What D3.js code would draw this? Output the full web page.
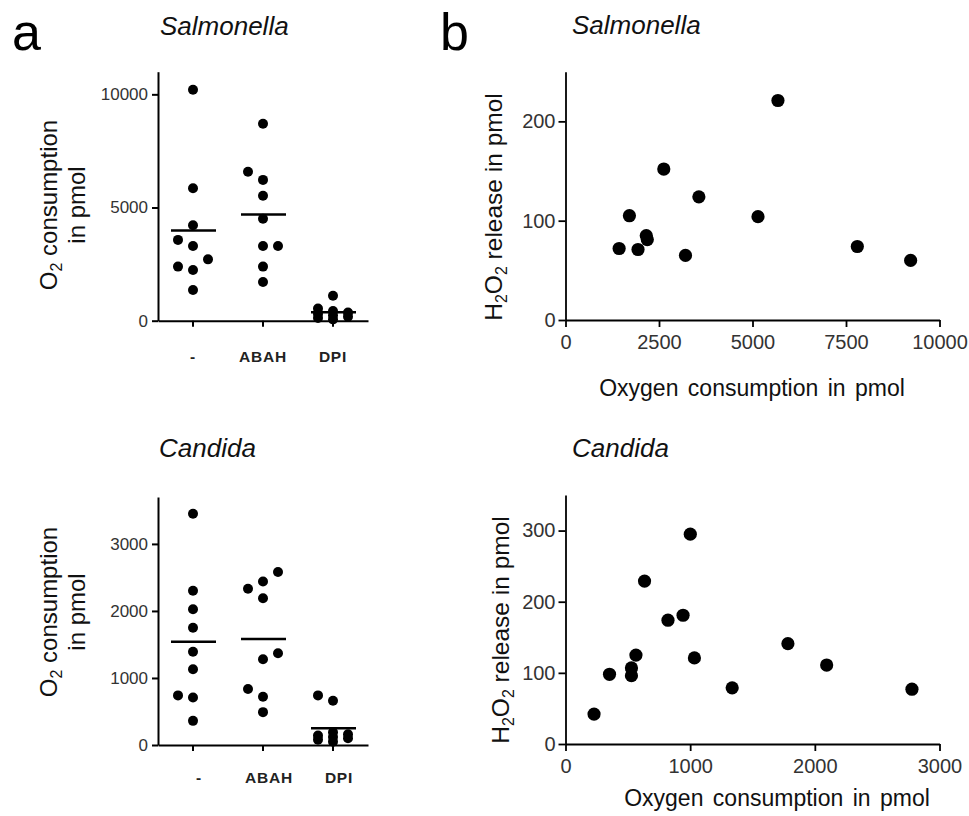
<!DOCTYPE html>
<html><head><meta charset="utf-8">
<script src="https://cdn.jsdelivr.net/npm/d3@7"></script>
<style>
body{margin:0;background:#fff}
svg{display:block}
text{font-family:"Liberation Sans", Arial, Helvetica, sans-serif}
</style>
</head><body>
<svg id="c" width="969" height="816"></svg>
<script>
// ---------- data ----------
const categories = ["-", "ABAH", "DPI"];
const salO2Ctrl = [10200, 5850, 4220, 3570, 3300, 2710, 2390, 2240, 1360];
const salO2Abah = [8700, 6580, 6220, 5520, 4500, 3300, 3300, 2390, 1710];
const salO2Dpi  = [1100, 540, 430, 360, 300, 240, 180, 120, 60];
const canO2Ctrl = [3450, 2300, 2025, 1750, 1390, 1130, 740, 710, 360];
const canO2Abah = [2580, 2440, 2330, 2190, 1370, 1280, 835, 720, 490];
const canO2Dpi  = [740, 660, 190, 160, 140, 120, 100, 80, 50];
const salOxygen = [5680, 2628, 3566, 1709, 5147, 2160, 2187, 1434, 1939, 3208, 7803, 9228];
const salH2O2   = [221, 152, 124, 105, 104, 85, 81, 72, 71, 65, 74, 60];
const canOxygen = [1001, 634, 943, 822, 1784, 565, 1034, 2095, 529, 353, 529, 1337, 2779, 229];
const canH2O2   = [295, 229, 181, 174, 141, 125, 121, 111, 107, 98, 96, 79, 77, 42];
const salO2Ticks = [0, 5000, 10000];
const canO2Ticks = [0, 1000, 2000, 3000];
const salScatXTicks = [0, 2500, 5000, 7500, 10000];
const salScatYTicks = [0, 100, 200];
const canScatXTicks = [0, 1000, 2000, 3000];
const canScatYTicks = [0, 100, 200, 300];

const svg = d3.select("#c");
svg.append("rect").attr("width", 969).attr("height", 816).attr("fill", "#fff");

function styleAxis(sel, sw, fs) {
  sel.selectAll("path.domain").attr("stroke", "#000").attr("stroke-width", sw);
  sel.selectAll(".tick line").attr("stroke", "#000").attr("stroke-width", sw);
  sel.selectAll(".tick text").attr("fill", "#333").attr("font-size", fs)
     .attr("font-family", '"Liberation Sans", Arial, sans-serif');
}

// Prism-like slot arrangement of points with similar values
function dodge(vals, y, T) {
  const items = vals.map((v, i) => ({v, py: y(v), i})).sort((a, b) => a.v - b.v);
  const placed = [];
  const slots = [0, -1, 1];
  items.forEach(it => {
    const room = slots.map(k => {
      const same = placed.filter(p => p.slot === k);
      return same.length ? d3.min(same, p => Math.abs(p.py - it.py)) : Infinity;
    });
    let slot;
    if (room[0] >= T) slot = 0;
    else if (room[1] >= T && room[2] >= T) {
      if (room[2] > room[1]) slot = 1;
      else if (room[1] > room[2]) slot = -1;
      else slot = placed.some(p => p.v === it.v) ? 1 : -1;
    }
    else if (room[1] >= T) slot = -1;
    else if (room[2] >= T) slot = 1;
    else slot = slots[d3.maxIndex(room)];
    it.slot = slot;
    placed.push(it);
  });
  return items;
}

function dotPanel(o) {
  const g = svg.append("g");
  const x = d3.scaleBand().domain(categories).range([o.x0, o.x1]);
  const y = d3.scaleLinear().domain([0, o.yMax]).range([o.yBottom, o.yTop]);
  const ya = g.append("g").attr("transform", `translate(${o.x0},0)`)
    .call(d3.axisLeft(y).tickValues(o.ticks).tickSize(6).tickSizeOuter(0).tickPadding(4).tickFormat(d3.format("d")));
  styleAxis(ya, 2, 17);
  const xa = g.append("g").attr("transform", `translate(0,${o.yBottom})`)
    .call(d3.axisBottom(x).tickSize(6).tickSizeOuter(0).tickFormat(""));
  styleAxis(xa, 2, 17);
  categories.forEach((c, ci) => {
    const cx = x(c) + x.bandwidth() / 2;
    const arr = dodge(o.groups[ci], y, 12);
    g.append("g").selectAll("circle").data(arr).join("circle")
      .attr("cx", d => cx + d.slot * 15).attr("cy", d => d.py).attr("r", 5).attr("fill", "#000");
    const m = d3.mean(o.groups[ci]);
    g.append("line").attr("x1", cx - 22).attr("x2", cx + 23).attr("y1", y(m)).attr("y2", y(m))
      .attr("stroke", "#000").attr("stroke-width", 2.4);
    g.append("text").attr("x", cx + o.labelShift).attr("y", o.yBottom + o.labelDy)
      .attr("text-anchor", "middle").attr("font-weight", "bold").attr("font-size", 15.5)
      .attr("letter-spacing", 0.8).attr("fill", "#222").text(c);
  });
  // y label (two lines)
  const t1 = g.append("text").attr("transform", `translate(${o.lab1x},${o.labCy}) rotate(-90)`)
    .attr("text-anchor", "middle").attr("font-size", 24).attr("fill", "#111");
  t1.append("tspan").text("O");
  t1.append("tspan").attr("font-size", 16).attr("dy", 5).text("2");
  t1.append("tspan").attr("dy", -5).text(" consumption");
  g.append("text").attr("transform", `translate(${o.lab2x},${o.labCy}) rotate(-90)`)
    .attr("text-anchor", "middle").attr("font-size", 24).attr("fill", "#111").text("in pmol");
  g.append("text").attr("x", o.titleX).attr("y", o.titleY).attr("font-size", 26)
    .attr("font-style", "italic").attr("fill", "#111").text(o.title);
}

function scatterPanel(o) {
  const g = svg.append("g");
  const x = d3.scaleLinear().domain([0, o.xMax]).range([o.x0, o.x1]);
  const y = d3.scaleLinear().domain([0, o.yMax]).range([o.yBottom, o.yTop]);
  const ya = g.append("g").attr("transform", `translate(${o.x0},0)`)
    .call(d3.axisLeft(y).tickValues(o.yTicks).tickSize(7).tickSizeOuter(0).tickPadding(3).tickFormat(d3.format("d")));
  styleAxis(ya, 1.8, 20);
  const xa = g.append("g").attr("transform", `translate(0,${o.yBottom})`)
    .call(d3.axisBottom(x).tickValues(o.xTicks).tickSize(7).tickSizeOuter(0).tickPadding(8).tickFormat(d3.format("d")));
  styleAxis(xa, 1.8, 20);
  g.append("g").selectAll("circle").data(o.xs).join("circle")
    .attr("cx", d => x(d)).attr("cy", (d, i) => y(o.ys[i])).attr("r", 6.6).attr("fill", "#000");
  g.append("text").attr("x", o.xlabX).attr("y", o.xlabY).attr("text-anchor", "middle")
    .attr("font-size", 23).attr("fill", "#111").attr("word-spacing", 3).text("Oxygen consumption in pmol");
  const t = g.append("text").attr("transform", `translate(${o.ylabX},${o.ylabCy}) rotate(-90)`)
    .attr("text-anchor", "middle").attr("font-size", 24.5).attr("fill", "#111");
  t.append("tspan").text("H");
  t.append("tspan").attr("font-size", 16).attr("dy", 5).text("2");
  t.append("tspan").attr("dy", -5).text("O");
  t.append("tspan").attr("font-size", 16).attr("dy", 5).text("2");
  t.append("tspan").attr("dy", -5).text(o.ylabRest);
  g.append("text").attr("x", o.titleX).attr("y", o.titleY).attr("font-size", 26)
    .attr("font-style", "italic").attr("fill", "#111").text(o.title);
}

dotPanel({x0: 158, x1: 368, yTop: 71.7, yBottom: 320.7, yMax: 11000, ticks: salO2Ticks,
  groups: [salO2Ctrl, salO2Abah, salO2Dpi], labelDy: 41, labelShift: 0,
  lab1x: 57, lab2x: 85, labCy: 205, title: "Salmonella", titleX: 160, titleY: 35});
dotPanel({x0: 158, x1: 368, yTop: 497, yBottom: 745, yMax: 3700, ticks: canO2Ticks,
  groups: [canO2Ctrl, canO2Abah, canO2Dpi], labelDy: 38, labelShift: 6,
  lab1x: 57, lab2x: 85, labCy: 612, title: "Candida", titleX: 159, titleY: 457});

scatterPanel({x0: 565.5, x1: 939.5, yTop: 71.7, yBottom: 320, xMax: 10000, yMax: 250,
  xTicks: salScatXTicks, yTicks: salScatYTicks, xs: salOxygen, ys: salH2O2,
  xlabX: 752, xlabY: 396, ylabX: 502, ylabCy: 207, ylabRest: " release  in pmol",
  title: "Salmonella", titleX: 572, titleY: 34});
scatterPanel({x0: 565.5, x1: 939.5, yTop: 495, yBottom: 744, xMax: 3000, yMax: 350,
  xTicks: canScatXTicks, yTicks: canScatYTicks, xs: canOxygen, ys: canH2O2,
  xlabX: 777, xlabY: 806, ylabX: 509, ylabCy: 630, ylabRest: " release in pmol",
  title: "Candida", titleX: 572, titleY: 457});

svg.append("text").attr("x", 12).attr("y", 50).attr("font-size", 52).attr("fill", "#000").text("a");
svg.append("text").attr("x", 440).attr("y", 50).attr("font-size", 52).attr("fill", "#000").text("b");
</script>
</body></html>
